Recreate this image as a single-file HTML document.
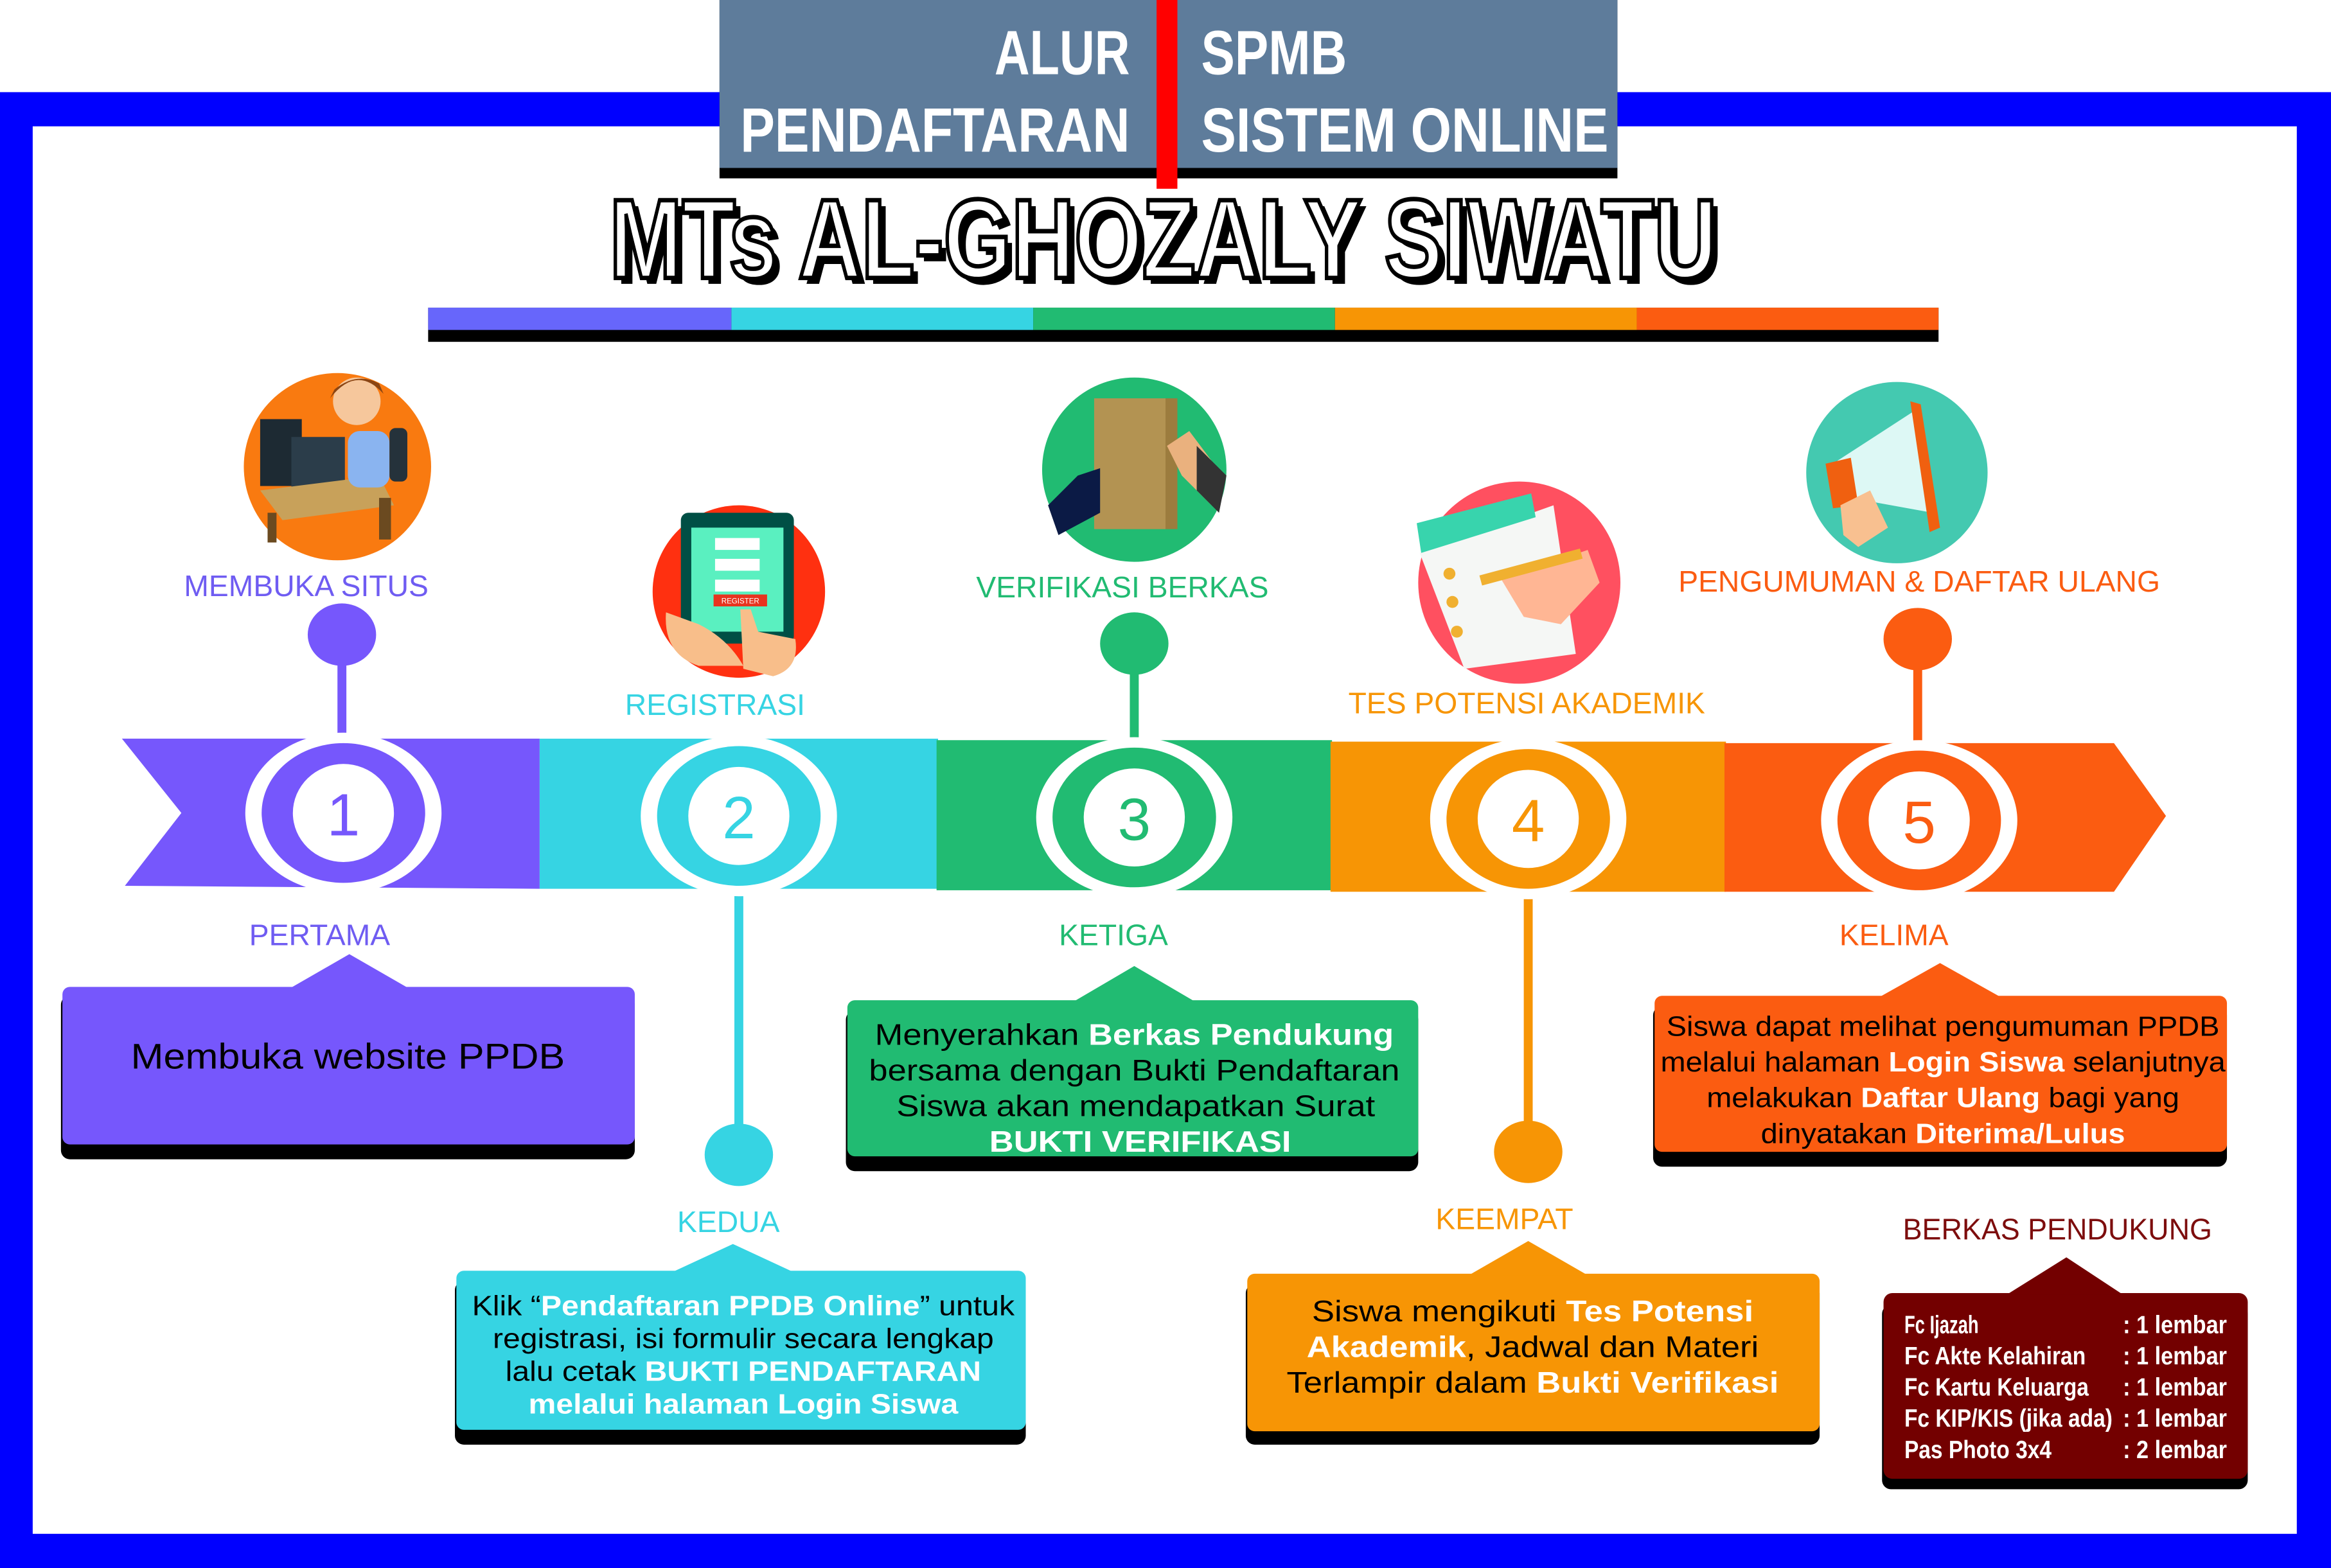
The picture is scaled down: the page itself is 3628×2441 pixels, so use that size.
<!DOCTYPE html>
<html><head><meta charset="utf-8"><style>
html,body{margin:0;padding:0;background:#fff}
svg{display:block}
text{font-family:"Liberation Sans",sans-serif}
</style></head><body>
<svg width="3628" height="2441" viewBox="0 0 1568 1055" preserveAspectRatio="none" xmlns="http://www.w3.org/2000/svg">
<rect width="1568" height="1055" fill="#fff"/>
<rect x="0" y="62" width="1568" height="993" fill="#0000ff"/>
<rect x="22" y="85" width="1523" height="947" fill="#fff"/>
<rect x="484" y="0" width="604" height="120" fill="#000"/>
<rect x="484" y="0" width="604" height="113" fill="#5e7c9b"/>
<rect x="778" y="0" width="14" height="127" fill="#f00"/>
<g fill="#fff" font-size="42" font-weight="bold">
<text x="669" y="50" textLength="91" lengthAdjust="spacingAndGlyphs">ALUR</text>
<text x="498" y="102" textLength="262" lengthAdjust="spacingAndGlyphs">PENDAFTARAN</text>
<text x="808" y="50" textLength="98" lengthAdjust="spacingAndGlyphs">SPMB</text>
<text x="808" y="102" textLength="274" lengthAdjust="spacingAndGlyphs">SISTEM ONLINE</text>
</g>
<text x="414" y="191" font-size="76" font-weight="bold" fill="#000" textLength="745" lengthAdjust="spacingAndGlyphs">MTs AL-GHOZALY SIWATU</text>
<text x="410" y="187" font-size="76" font-weight="bold" fill="#fff" stroke="#000" stroke-width="3" textLength="745" lengthAdjust="spacingAndGlyphs">MTs AL-GHOZALY SIWATU</text>
<rect x="288" y="207" width="1016" height="23" fill="#000"/>
<rect x="288" y="207" width="204" height="15" fill="#6766fb"/>
<rect x="492" y="207" width="203" height="15" fill="#36d4e3"/>
<rect x="695" y="207" width="203" height="15" fill="#21bb72"/>
<rect x="898" y="207" width="203" height="15" fill="#f79505"/>
<rect x="1101" y="207" width="203" height="15" fill="#fb5c11"/>

<circle cx="227" cy="314" r="63" fill="#f97a10"/>
<rect x="175" y="282" width="28" height="45" fill="#1d2a33"/>
<rect x="196" y="294" width="36" height="40" fill="#2b3d4a"/>
<polygon points="175,330 255,320 265,340 190,350" fill="#c8a15a"/>
<rect x="180" y="345" width="6" height="20" fill="#6b4a20"/><rect x="255" y="335" width="8" height="28" fill="#6b4a20"/>
<circle cx="240" cy="270" r="16" fill="#f6c79c"/><path d="M222,268 Q240,245 258,265 L255,258 Q240,250 225,262Z" fill="#8b4513"/>
<rect x="234" y="290" width="28" height="38" rx="8" fill="#8ab4f0"/>
<rect x="262" y="288" width="12" height="36" rx="4" fill="#25323b"/>

<circle cx="497" cy="398" r="58" fill="#ff3010"/>
<rect x="458" y="345" width="76" height="88" rx="5" fill="#004f45"/>
<rect x="465" y="355" width="62" height="70" fill="#5af0c0"/>
<rect x="481" y="362" width="30" height="8" fill="#fff"/><rect x="481" y="376" width="30" height="8" fill="#fff"/><rect x="481" y="390" width="30" height="8" fill="#fff"/>
<rect x="480" y="400" width="36" height="8" fill="#e8331f"/>
<text x="498" y="406" font-size="5" fill="#fff" text-anchor="middle">REGISTER</text>
<path d="M448,412 Q446,440 470,448 L500,448 Q490,430 470,420Z" fill="#f8be8a"/>
<path d="M498,410 L505,410 L510,425 L535,430 Q538,450 520,455 L500,450Z" fill="#f8be8a"/>

<circle cx="763" cy="316" r="62" fill="#21bb72"/>
<rect x="736" y="268" width="48" height="88" fill="#b39352"/>
<rect x="784" y="268" width="8" height="88" fill="#9c7c3e"/>
<path d="M705,340 L725,320 L740,315 L740,345 L712,360Z" fill="#0b1a45"/>
<path d="M785,300 L800,290 L815,310 L815,340 L795,320Z" fill="#eab17e"/>
<path d="M805,300 L825,320 L820,345 L805,330Z" fill="#333"/>

<circle cx="1022" cy="392" r="68" fill="#ff5060"/>
<path d="M955,372 L1045,340 L1060,440 L985,450Z" fill="#f5f7f5"/>
<path d="M953,352 L1030,332 L1033,348 L956,372Z" fill="#38d4ad"/>
<path d="M1010,390 L1068,370 L1076,392 L1050,420 L1025,415Z" fill="#ffb694"/>
<rect x="995" y="378" width="70" height="7" fill="#f0b030" transform="rotate(-15 1030 382)"/>
<circle cx="975" cy="386" r="4" fill="#f0b030"/><circle cx="977" cy="405" r="4" fill="#f0b030"/><circle cx="980" cy="425" r="4" fill="#f0b030"/>

<circle cx="1276" cy="318" r="61" fill="#44c9b0"/>
<path d="M1236,310 L1290,275 L1300,345 L1245,335Z" fill="#ddf8f5"/>
<path d="M1285,270 L1292,272 L1305,355 L1298,358Z" fill="#f06010"/>
<path d="M1228,312 L1245,308 L1250,340 L1233,342Z" fill="#f06010"/>
<path d="M1238,340 L1258,330 L1270,355 L1250,368 L1240,360Z" fill="#f8c090"/>

<g font-size="20" text-anchor="middle">
<text x="206" y="401" fill="#6f5cf2">MEMBUKA SITUS</text>
<text x="481" y="481" fill="#36d4e3">REGISTRASI</text>
<text x="755" y="402" fill="#21bb72">VERIFIKASI BERKAS</text>
<text x="1027" y="480" fill="#f79505">TES POTENSI AKADEMIK</text>
<text x="1291" y="398" fill="#fb5c11">PENGUMUMAN &amp; DAFTAR ULANG</text>
</g>

<g stroke-width="6">
<line x1="230" y1="427" x2="230" y2="500" stroke="#7657fc"/>
<line x1="763" y1="433" x2="763" y2="500" stroke="#21bb72"/>
<line x1="1290" y1="430" x2="1290" y2="500" stroke="#fb5c11"/>
<line x1="497" y1="598" x2="497" y2="777" stroke="#36d4e3"/>
<line x1="1028" y1="598" x2="1028" y2="775" stroke="#f79505"/>
</g>
<ellipse cx="230" cy="427" rx="23" ry="21" fill="#7657fc"/>
<ellipse cx="763" cy="433" rx="23" ry="21" fill="#21bb72"/>
<ellipse cx="1290" cy="430" rx="23" ry="21" fill="#fb5c11"/>
<ellipse cx="497" cy="777" rx="23" ry="21" fill="#36d4e3"/>
<ellipse cx="1028" cy="775" rx="23" ry="21" fill="#f79505"/>

<polygon points="82,497 363,497 363,598 84,596 122,547" fill="#7657fc"/>
<rect x="363" y="497" width="268" height="101" fill="#36d4e3"/>
<rect x="630" y="498" width="266" height="101" fill="#21bb72"/>
<rect x="895" y="499" width="266" height="101" fill="#f79505"/>
<polygon points="1160,500 1422,500 1457,549 1422,600 1160,600" fill="#fb5c11"/>

<g>
<ellipse cx="231" cy="547" rx="66" ry="54" fill="#fff"/><ellipse cx="231" cy="547" rx="55" ry="47" fill="#7657fc"/><ellipse cx="231" cy="547" rx="34" ry="33" fill="#fff"/>
<ellipse cx="497" cy="549" rx="66" ry="54" fill="#fff"/><ellipse cx="497" cy="549" rx="55" ry="47" fill="#36d4e3"/><ellipse cx="497" cy="549" rx="34" ry="33" fill="#fff"/>
<ellipse cx="763" cy="550" rx="66" ry="54" fill="#fff"/><ellipse cx="763" cy="550" rx="55" ry="47" fill="#21bb72"/><ellipse cx="763" cy="550" rx="34" ry="33" fill="#fff"/>
<ellipse cx="1028" cy="551" rx="66" ry="54" fill="#fff"/><ellipse cx="1028" cy="551" rx="55" ry="47" fill="#f79505"/><ellipse cx="1028" cy="551" rx="34" ry="33" fill="#fff"/>
<ellipse cx="1291" cy="552" rx="66" ry="54" fill="#fff"/><ellipse cx="1291" cy="552" rx="55" ry="47" fill="#fb5c11"/><ellipse cx="1291" cy="552" rx="34" ry="33" fill="#fff"/>
</g>
<g font-size="40" text-anchor="middle">
<text x="231" y="562" fill="#7657fc">1</text>
<text x="497" y="564" fill="#36d4e3">2</text>
<text x="763" y="565" fill="#21bb72">3</text>
<text x="1028" y="566" fill="#f79505">4</text>
<text x="1291" y="567" fill="#fb5c11">5</text>
</g>

<g font-size="20" text-anchor="middle">
<text x="215" y="636" fill="#6f5cf2">PERTAMA</text>
<text x="749" y="636" fill="#21bb72">KETIGA</text>
<text x="1274" y="636" fill="#fb5c11">KELIMA</text>
<text x="490" y="829" fill="#36d4e3">KEDUA</text>
<text x="1012" y="827" fill="#f79505">KEEMPAT</text>
</g>

<rect x="41" y="670" width="386" height="110" rx="6" fill="#000"/>
<rect x="42" y="664" width="385" height="106" rx="5" fill="#7657fc"/>
<polygon points="195,665 235,642 275,665" fill="#7657fc"/>
<text x="234" y="719" font-size="24" text-anchor="middle" fill="#000" textLength="292" lengthAdjust="spacingAndGlyphs">Membuka website PPDB</text>

<rect x="306" y="862" width="384" height="110" rx="6" fill="#000"/>
<rect x="307" y="855" width="383" height="107" rx="5" fill="#36d4e3"/>
<polygon points="452,856 493,837 534,856" fill="#36d4e3"/>
<g font-size="19" text-anchor="middle" fill="#000">
<text x="500" y="885" textLength="365" lengthAdjust="spacingAndGlyphs">Klik “<tspan fill="#fff" font-weight="bold">Pendaftaran PPDB Online</tspan>” untuk</text>
<text x="500" y="907" textLength="337" lengthAdjust="spacingAndGlyphs">registrasi, isi formulir secara lengkap</text>
<text x="500" y="929" textLength="320" lengthAdjust="spacingAndGlyphs">lalu cetak <tspan fill="#fff" font-weight="bold">BUKTI PENDAFTARAN</tspan></text>
<text x="500" y="951" fill="#fff" font-weight="bold" textLength="289" lengthAdjust="spacingAndGlyphs">melalui halaman Login Siswa</text>
</g>

<rect x="569" y="680" width="385" height="108" rx="6" fill="#000"/>
<rect x="570" y="673" width="384" height="105" rx="5" fill="#21bb72"/>
<polygon points="722,674 763,650 804,674" fill="#21bb72"/>
<g font-size="20" text-anchor="middle" fill="#000">
<text x="763" y="703" textLength="349" lengthAdjust="spacingAndGlyphs">Menyerahkan <tspan fill="#fff" font-weight="bold">Berkas Pendukung</tspan></text>
<text x="763" y="727" textLength="357" lengthAdjust="spacingAndGlyphs">bersama dengan Bukti Pendaftaran</text>
<text x="764" y="751" textLength="322" lengthAdjust="spacingAndGlyphs">Siswa akan mendapatkan Surat</text>
<text x="767" y="775" fill="#fff" font-weight="bold" textLength="203" lengthAdjust="spacingAndGlyphs">BUKTI VERIFIKASI</text>
</g>

<rect x="838" y="864" width="386" height="108" rx="6" fill="#000"/>
<rect x="839" y="857" width="385" height="106" rx="5" fill="#f79505"/>
<polygon points="988,858 1028,835 1068,858" fill="#f79505"/>
<g font-size="20" text-anchor="middle" fill="#000">
<text x="1031" y="889" textLength="297" lengthAdjust="spacingAndGlyphs">Siswa mengikuti <tspan fill="#fff" font-weight="bold">Tes Potensi</tspan></text>
<text x="1031" y="913" textLength="304" lengthAdjust="spacingAndGlyphs"><tspan fill="#fff" font-weight="bold">Akademik</tspan>, Jadwal dan Materi</text>
<text x="1031" y="937" textLength="331" lengthAdjust="spacingAndGlyphs">Terlampir dalam <tspan fill="#fff" font-weight="bold">Bukti Verifikasi</tspan></text>
</g>

<rect x="1112" y="677" width="386" height="108" rx="6" fill="#000"/>
<rect x="1113" y="670" width="385" height="105" rx="5" fill="#fb5c11"/>
<polygon points="1264,671 1305,648 1346,671" fill="#fb5c11"/>
<g font-size="19" text-anchor="middle" fill="#000">
<text x="1307" y="697" textLength="372" lengthAdjust="spacingAndGlyphs">Siswa dapat melihat pengumuman PPDB</text>
<text x="1307" y="721" textLength="380" lengthAdjust="spacingAndGlyphs">melalui halaman <tspan fill="#fff" font-weight="bold">Login Siswa</tspan> selanjutnya</text>
<text x="1307" y="745" textLength="318" lengthAdjust="spacingAndGlyphs">melakukan <tspan fill="#fff" font-weight="bold">Daftar Ulang</tspan> bagi yang</text>
<text x="1307" y="769" textLength="245" lengthAdjust="spacingAndGlyphs">dinyatakan <tspan fill="#fff" font-weight="bold">Diterima/Lulus</tspan></text>
</g>

<text x="1384" y="834" font-size="20" text-anchor="middle" fill="#7d0d0d" textLength="208" lengthAdjust="spacingAndGlyphs">BERKAS PENDUKUNG</text>
<rect x="1266" y="878" width="246" height="124" rx="6" fill="#000"/>
<rect x="1267" y="870" width="245" height="125" rx="6" fill="#730000"/>
<polygon points="1350,871 1390,846 1428,871" fill="#730000"/>
<g font-size="17" fill="#fff" font-weight="bold">
<text x="1281" y="897" textLength="50" lengthAdjust="spacingAndGlyphs">Fc Ijazah</text>
<text x="1281" y="918" textLength="122" lengthAdjust="spacingAndGlyphs">Fc Akte Kelahiran</text>
<text x="1281" y="939" textLength="124" lengthAdjust="spacingAndGlyphs">Fc Kartu Keluarga</text>
<text x="1281" y="960" textLength="140" lengthAdjust="spacingAndGlyphs">Fc KIP/KIS (jika ada)</text>
<text x="1281" y="981" textLength="99" lengthAdjust="spacingAndGlyphs">Pas Photo 3x4</text>
<text x="1428" y="897" textLength="70" lengthAdjust="spacingAndGlyphs">: 1 lembar</text>
<text x="1428" y="918" textLength="70" lengthAdjust="spacingAndGlyphs">: 1 lembar</text>
<text x="1428" y="939" textLength="70" lengthAdjust="spacingAndGlyphs">: 1 lembar</text>
<text x="1428" y="960" textLength="70" lengthAdjust="spacingAndGlyphs">: 1 lembar</text>
<text x="1428" y="981" textLength="70" lengthAdjust="spacingAndGlyphs">: 2 lembar</text>
</g>
</svg>
</body></html>
